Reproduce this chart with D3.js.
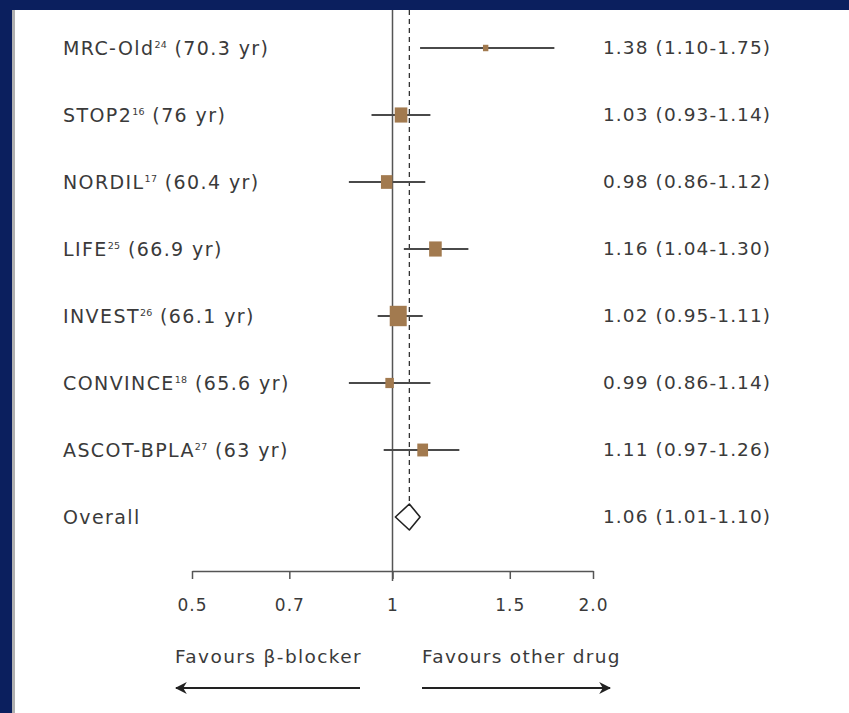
<!DOCTYPE html>
<html><head><meta charset="utf-8">
<script src="https://cdn.jsdelivr.net/npm/d3@7"></script>
<style>html,body{margin:0;padding:0;background:#0b1f5e;overflow:hidden}</style>
</head><body>
<svg id="c" width="849" height="713"></svg>
<script>
const studies = ["MRC-Old", "STOP2", "NORDIL", "LIFE", "INVEST", "CONVINCE", "ASCOT-BPLA"];
const refs = ["24", "16", "17", "25", "26", "18", "27"];
const ages = ["70.3 yr", "76 yr", "60.4 yr", "66.9 yr", "66.1 yr", "65.6 yr", "63 yr"];
const hr = [1.38, 1.03, 0.98, 1.16, 1.02, 0.99, 1.11];
const lo = [1.10, 0.93, 0.86, 1.04, 0.95, 0.86, 0.97];
const hi = [1.75, 1.14, 1.12, 1.30, 1.11, 1.14, 1.26];
const weights = [1, 5.5, 4.5, 5.5, 10, 2.5, 4];
const overall = {label: "Overall", hr: 1.06, lo: 1.01, hi: 1.10};
const tickValues = [0.5, 0.7, 1, 1.5, 2.0];
const tickLabels = ["0.5", "0.7", "1", "1.5", "2.0"];

const svg = d3.select("#c");
const font = "'DejaVu Sans', sans-serif";
const textCol = "#3a3a3a";

// panel
svg.append("rect").attr("x", 0).attr("y", 0).attr("width", 849).attr("height", 713).attr("fill", "#0b1f5e");
svg.append("rect").attr("x", 12).attr("y", 10).attr("width", 837).attr("height", 703).attr("fill", "#fff");
svg.append("rect").attr("x", 12).attr("y", 10).attr("width", 3).attr("height", 703).attr("fill", "#b0b0b0");

const x = d3.scaleLog().domain([0.5, 2]).range([192, 593]);
const rows = studies.map((s, i) => i).concat([studies.length]);
const y = d3.scalePoint().domain(rows).range([48, 517]);
const size = d3.scaleSqrt().domain([0, 10]).range([0, 17]);

const axisY = 571;

// reference line at 1
svg.append("line").attr("x1", x(1)).attr("x2", x(1)).attr("y1", 10).attr("y2", axisY + 10)
  .attr("stroke", "#555").attr("stroke-width", 1.5);
// dashed line at overall
svg.append("line").attr("x1", x(overall.hr)).attr("x2", x(overall.hr)).attr("y1", 10).attr("y2", y(studies.length) - 13)
  .attr("stroke", "#333").attr("stroke-width", 1.3).attr("stroke-dasharray", "5,4");

// axis
const axis = d3.axisBottom(x).tickValues(tickValues).tickFormat((d, i) => tickLabels[i]).tickSize(8).tickSizeOuter(0);
const ax = svg.append("g").attr("transform", `translate(0,${axisY})`).call(axis);
ax.select(".domain").attr("stroke", "#555").attr("stroke-width", 1.5);
ax.selectAll(".tick line").attr("stroke", "#555").attr("stroke-width", 1.5);
ax.selectAll(".tick text").attr("font-family", font).attr("font-size", 17).attr("fill", textCol)
  .attr("letter-spacing", 1).attr("dy", "1.7em");

// CIs
const g = svg.append("g");
studies.forEach((s, i) => {
  const yy = y(i);
  g.append("line").attr("x1", x(lo[i])).attr("x2", x(hi[i])).attr("y1", yy).attr("y2", yy)
    .attr("stroke", "#4a4a4a").attr("stroke-width", 2);
  const w = size(weights[i]), h = w * 1.2;
  g.append("rect").attr("x", x(hr[i]) - w / 2).attr("y", yy - h / 2).attr("width", w).attr("height", h)
    .attr("fill", "#a27a4f");
  // label
  const t = svg.append("text").attr("x", 63).attr("y", yy).attr("dy", "0.35em")
    .attr("font-family", font).attr("font-size", 19).attr("letter-spacing", 1.4).attr("fill", textCol);
  t.append("tspan").text(s);
  t.append("tspan").text(refs[i]).attr("font-size", 9.5).attr("letter-spacing", 0.3).attr("dy", "-0.7em");
  t.append("tspan").text(" (" + ages[i] + ")").attr("dy", "0.35em");
  svg.append("text").attr("x", 603).attr("y", yy).attr("dy", "0.35em")
    .attr("font-family", font).attr("font-size", 18.5).attr("letter-spacing", 1.1).attr("fill", textCol)
    .text(`${hr[i].toFixed(2)} (${lo[i].toFixed(2)}-${hi[i].toFixed(2)})`);
});

// overall
const oy = y(studies.length);
svg.append("path")
  .attr("d", `M${x(overall.lo)},${oy} L${x(overall.hr)},${oy - 13} L${x(overall.hi)},${oy} L${x(overall.hr)},${oy + 13} Z`)
  .attr("fill", "#fff").attr("stroke", "#222").attr("stroke-width", 1.6).attr("stroke-linejoin", "round");
svg.append("text").attr("x", 63).attr("y", oy).attr("dy", "0.35em")
  .attr("font-family", font).attr("font-size", 19).attr("letter-spacing", 1.4).attr("fill", textCol).text(overall.label);
svg.append("text").attr("x", 603).attr("y", oy).attr("dy", "0.35em")
  .attr("font-family", font).attr("font-size", 18.5).attr("letter-spacing", 1.1).attr("fill", textCol)
  .text(`${overall.hr.toFixed(2)} (${overall.lo.toFixed(2)}-${overall.hi.toFixed(2)})`);

// favours labels and arrows
svg.append("text").attr("x", 175).attr("y", 657).attr("dy", "0.35em")
  .attr("font-family", font).attr("font-size", 18.5).attr("letter-spacing", 1.4).attr("fill", textCol).text("Favours β-blocker");
svg.append("text").attr("x", 422).attr("y", 657).attr("dy", "0.35em")
  .attr("font-family", font).attr("font-size", 18.5).attr("letter-spacing", 1.3).attr("fill", textCol).text("Favours other drug");

const defs = svg.append("defs");
defs.append("marker").attr("id", "ah").attr("viewBox", "0 0 10 10").attr("refX", 9).attr("refY", 5)
  .attr("markerWidth", 6).attr("markerHeight", 6).attr("orient", "auto-start-reverse")
  .append("path").attr("d", "M0,0 L10,5 L0,10 L3,5 Z").attr("fill", "#222");
svg.append("line").attr("x1", 360).attr("x2", 176).attr("y1", 688).attr("y2", 688)
  .attr("stroke", "#222").attr("stroke-width", 2).attr("marker-end", "url(#ah)");
svg.append("line").attr("x1", 422).attr("x2", 610).attr("y1", 688).attr("y2", 688)
  .attr("stroke", "#222").attr("stroke-width", 2).attr("marker-end", "url(#ah)");
</script>
</body></html>
